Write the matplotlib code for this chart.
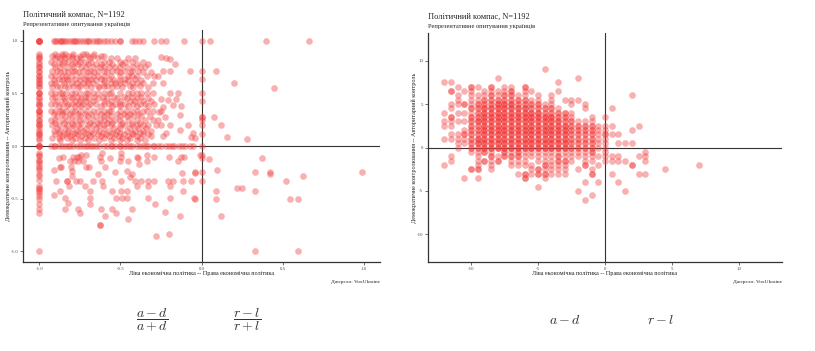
import matplotlib
matplotlib.use("Agg")
import matplotlib.pyplot as plt
import numpy as np

plt.rcParams['font.family'] = ['Liberation Serif', 'DejaVu Serif']
plt.rcParams['mathtext.fontset'] = 'cm'
plt.rcParams['axes.unicode_minus'] = False

title = "Політичний компас, N=1192"
subtitle = "Репрезентативне опитування українців"
xlabel = "Ліва економічна політика -- Права економічна політика"
ylabel = "Демократичне контролювання -- Авторитарний контроль"
caption = "Джерело: VoxUkraine"

# ---- left chart: ratios (r-l)/(r+l) vs (a-d)/(a+d) ----
left_ticks = [-1.0, -0.5, 0.0, 0.5, 1.0]
left_ticklabels = ["-1.0", "-0.5", "0.0", "0.5", "1.0"]

# points at x = -1
edge_left_y = [1.0, 1.0, 1.0, 0.875, 0.857, 0.833, 0.833, 0.8, 0.778, 0.75, 0.75, 0.714,
               0.7, 0.667, 0.667, 0.636, 0.625, 0.6, 0.6, 0.571, 0.556, 0.5, 0.5, 0.5,
               0.467, 0.455, 0.429, 0.4, 0.4, 0.375, 0.333, 0.333, 0.333, 0.3, 0.286,
               0.25, 0.25, 0.222, 0.2, 0.2, 0.167, 0.143, 0.125, 0.111, 0.1, 0.077, 0.059,
               0.0, 0.0, 0.0, -0.066, -0.082, -0.097, -0.129, -0.145, -0.16, -0.19,
               -0.208, -0.223, -0.27, -0.286, -0.318, -0.38, -0.396, -0.41, -0.428,
               -0.443, -0.475, -0.506, -0.553, -0.594, -0.638, -1.0]

# points at y = 1
top_row_x = [-1, -1, -0.91, -0.9, -0.889, -0.875, -0.867, -0.857, -0.846, -0.833, -0.818,
             -0.8, -0.786, -0.778, -0.765, -0.75, -0.733, -0.714, -0.7, -0.692, -0.667,
             -0.65, -0.636, -0.625, -0.6, -0.58, -0.556, -0.53, -0.5, -0.5, -0.43, -0.41,
             -0.385, -0.36, -0.29, -0.25, -0.22, -0.11, 0.055, 0.4, 0.66]

# points at y = 0
zero_row_x = [-1, -0.93, -0.91, -0.9, -0.88, -0.86, -0.84, -0.82, -0.81, -0.79, -0.77,
              -0.75, -0.73, -0.71, -0.7, -0.68, -0.667, -0.65, -0.63, -0.6, -0.58, -0.56,
              -0.55, -0.53, -0.5, -0.5, -0.48, -0.46, -0.44, -0.43, -0.4, -0.38, -0.36,
              -0.34, -0.33, -0.3, -0.29, -0.27, -0.25, -0.22, -0.2, -0.18, -0.17, -0.14,
              -0.12, -0.1, -0.07, -0.05]

# points at x = 0
axis_col_y = [1.0, 0.714, 0.636, 0.5, 0.429, 0.273, 0.273, 0.25, 0.2, 0.111, 0.0,
              -0.083, -0.111, -0.25, -0.333]

# dense cloud, one row of x values per y value
cloud_y = [0.875, 0.857, 0.833, 0.8, 0.778, 0.75, 0.714, 0.7, 0.667, 0.636, 0.625, 0.6,
           0.571, 0.556, 0.5, 0.467, 0.455, 0.429, 0.4, 0.375, 0.333, 0.3, 0.286, 0.25,
           0.222, 0.2, 0.167, 0.143, 0.125, 0.111, 0.091, 0.077, 0.059]
cloud_x = [
    [-0.905, -0.86, -0.84, -0.79, -0.73, -0.71, -0.66],
    [-0.92, -0.89, -0.857, -0.82, -0.8, -0.75, -0.7, -0.67, -0.62, -0.6],
    [-0.9, -0.87, -0.84, -0.8, -0.77, -0.74, -0.69, -0.64, -0.56, -0.52, -0.45, -0.41],
    [-0.93, -0.88, -0.85, -0.82, -0.78, -0.75, -0.72, -0.68, -0.6, -0.57, -0.5, -0.47, -0.43, -0.36],
    [-0.91, -0.86, -0.8, -0.76, -0.7, -0.65, -0.62, -0.55, -0.49, -0.4, -0.33],
    [-0.9, -0.875, -0.83, -0.79, -0.74, -0.71, -0.667, -0.625, -0.6, -0.57, -0.53, -0.5, -0.46, -0.42, -0.38, -0.35],
    [-0.92, -0.89, -0.85, -0.8, -0.78, -0.73, -0.69, -0.64, -0.6, -0.55, -0.52, -0.48, -0.43, -0.39],
    [-0.87, -0.82, -0.76, -0.7, -0.66, -0.58, -0.5, -0.44, -0.36, -0.31],
    [-0.93, -0.9, -0.857, -0.833, -0.8, -0.75, -0.714, -0.667, -0.636, -0.6, -0.556, -0.5, -0.455, -0.429, -0.4, -0.333, -0.29],
    [-0.88, -0.83, -0.78, -0.72, -0.68, -0.62, -0.57, -0.47, -0.41],
    [-0.91, -0.86, -0.82, -0.75, -0.7, -0.65, -0.6, -0.54, -0.5, -0.45, -0.37],
    [-0.93, -0.9, -0.85, -0.8, -0.77, -0.73, -0.7, -0.667, -0.6, -0.56, -0.53, -0.5, -0.47, -0.43, -0.4, -0.36, -0.3],
    [-0.89, -0.84, -0.79, -0.75, -0.71, -0.64, -0.6, -0.58, -0.52, -0.44, -0.38],
    [-0.92, -0.87, -0.82, -0.76, -0.68, -0.63, -0.55, -0.49, -0.42, -0.33],
    [-0.93, -0.9, -0.875, -0.857, -0.833, -0.8, -0.778, -0.75, -0.714, -0.7, -0.667, -0.636, -0.6, -0.571, -0.556, -0.5, -0.455, -0.429, -0.4, -0.375, -0.333, -0.3],
    [-0.9, -0.86, -0.81, -0.77, -0.72, -0.66, -0.61, -0.54, -0.48, -0.43, -0.37],
    [-0.92, -0.85, -0.8, -0.74, -0.7, -0.64, -0.58, -0.52, -0.46, -0.4, -0.33],
    [-0.89, -0.84, -0.78, -0.75, -0.71, -0.667, -0.6, -0.56, -0.5, -0.44, -0.41, -0.36, -0.31],
    [-0.93, -0.9, -0.857, -0.82, -0.8, -0.76, -0.73, -0.69, -0.65, -0.6, -0.57, -0.53, -0.5, -0.47, -0.42, -0.38, -0.35, -0.29],
    [-0.88, -0.83, -0.78, -0.74, -0.7, -0.62, -0.55, -0.5, -0.45, -0.4, -0.33],
    [-0.93, -0.9, -0.875, -0.857, -0.833, -0.8, -0.778, -0.75, -0.714, -0.667, -0.636, -0.6, -0.571, -0.556, -0.5, -0.467, -0.429, -0.4, -0.36, -0.333, -0.3, -0.25],
    [-0.91, -0.86, -0.81, -0.76, -0.72, -0.68, -0.62, -0.58, -0.52, -0.48, -0.44, -0.39],
    [-0.89, -0.84, -0.8, -0.75, -0.7, -0.65, -0.6, -0.56, -0.5, -0.46, -0.42, -0.37, -0.32],
    [-0.93, -0.9, -0.857, -0.82, -0.78, -0.75, -0.71, -0.667, -0.625, -0.6, -0.57, -0.53, -0.5, -0.45, -0.4, -0.35, -0.3, -0.27],
    [-0.9, -0.85, -0.8, -0.74, -0.69, -0.64, -0.58, -0.55, -0.49, -0.43, -0.38],
    [-0.92, -0.88, -0.83, -0.79, -0.76, -0.7, -0.667, -0.63, -0.6, -0.56, -0.5, -0.47, -0.43, -0.4, -0.36, -0.33, -0.28],
    [-0.89, -0.84, -0.8, -0.75, -0.71, -0.65, -0.6, -0.54, -0.5, -0.44, -0.39, -0.34],
    [-0.91, -0.87, -0.82, -0.77, -0.73, -0.68, -0.63, -0.57, -0.52, -0.46, -0.41, -0.36, -0.31],
    [-0.88, -0.83, -0.78, -0.72, -0.67, -0.61, -0.55, -0.5, -0.43, -0.38],
    [-0.9, -0.85, -0.8, -0.76, -0.7, -0.64, -0.59, -0.53, -0.48, -0.42, -0.36, -0.33],
    [-0.86, -0.81, -0.74, -0.69, -0.62, -0.57, -0.51, -0.45, -0.4, -0.31],
    [-0.92, -0.88, -0.83, -0.78, -0.72, -0.66, -0.6, -0.54, -0.49, -0.44, -0.38],
    [-0.87, -0.8, -0.75, -0.7, -0.63, -0.56, -0.5, -0.46, -0.4, -0.35],
]

# scattered single points
other_x = [-0.247, -0.217, -0.196, -0.166, -0.237, -0.196, -0.07, -0.27, -0.237, -0.196,
           -0.145, -0.155, -0.247, -0.206, -0.176, -0.125, -0.237, -0.227, -0.135, -0.196,
           -0.084, -0.053, -0.063, -0.237, -0.217, -0.135, -0.25, -0.26, -0.043,
           0.09, 0.198, 0.448, 0.076, 0.12, 0.155, 0.28,
           -0.912, -0.908, -0.896, -0.881, -0.875, -0.867, -0.871, -0.851, -0.843, -0.843,
           -0.83, -0.83, -0.82, -0.814, -0.81, -0.806, -0.8, -0.8, -0.789, -0.783, -0.769,
           -0.773, -0.759, -0.753, -0.748, -0.744, -0.759, -0.748, -0.728, -0.718, -0.712,
           -0.712, -0.691, -0.687, -0.687, -0.687, -0.667, -0.636, -0.626, -0.622, -0.616,
           -0.605, -0.62, -0.595, -0.616, -0.595, -0.564, -0.554, -0.554, -0.534, -0.528,
           -0.524, -0.503, -0.499, -0.499, -0.493, -0.493, -0.491, -0.462, -0.462, -0.458,
           -0.452, -0.45, -0.442, -0.431, -0.429, -0.411, -0.4, -0.397, -0.39, -0.384,
           -0.37, -0.335, -0.335, -0.329, -0.329, -0.329, -0.294, -0.294, -0.284, -0.278,
           -0.227, -0.207, -0.2, -0.2, -0.196, -0.196, -0.176, -0.145, -0.131, -0.125,
           -0.119, -0.115, -0.115, -0.11, -0.067, -0.049, -0.043, -0.012, -0.626, -0.626,
           0.049, 0.37, -0.043, 0.096, 0.33, 0.423, 0.423, 0.52, 0.628, 0.99, 0.088,
           0.217, 0.247, 0.33, -0.043, 0.088, 0.548, 0.595, 0.123, 0.33, 0.593]
other_y = [0.843, 0.836, 0.827, 0.78, 0.71, 0.71, 0.71, 0.667, 0.6, 0.5,
           0.5, 0.45, 0.45, 0.434, 0.387, 0.377, 0.371, 0.277, 0.292, 0.2,
           0.2, 0.12, 0.088, 0.094, 0.12, 0.15, 0.2, 0.324, 0.075,
           0.71, 0.6, 0.553, 0.273, 0.2, 0.088, 0.066,
           -0.23, -0.465, -0.333, -0.113, -0.2, -0.2, -0.43, -0.1, -0.49, -0.6,
           -0.333, -0.333, -0.538, -0.38, -0.145, -0.2, -0.28, -0.24, -0.1, -0.145, -0.1,
           -0.333, -0.145, -0.1, -0.333, -0.082, -0.6, -0.632, -0.145, -0.38, -0.2,
           -0.082, -0.2, -0.43, -0.49, -0.553, -0.333, -0.27, -0.1, -0.145, -0.333,
           -0.38, -0.6, -0.66, -0.066, -0.2, -0.113, -0.43, -0.6, -0.248, -0.632,
           -0.49, -0.145, -0.066, -0.1, -0.333, -0.43, -0.49, -0.233, -0.49, -0.43,
           -0.689, -0.145, -0.296, -0.27, -0.6, -0.333, -0.1, -0.38, -0.113, -0.167,
           -0.333, -0.082, -0.145, -0.333, -0.38, -0.49, -0.1, -0.333, -0.553, -0.858,
           -0.623, -0.333, -0.1, -0.836, -0.38, -0.49, -0.333, -0.145, -0.66, -0.1,
           -0.255, -0.333, -0.43, -0.1, -0.333, -0.49, -0.255, -0.082, -0.75, -0.75,
           -0.123, -0.11, -0.25, -0.23, -0.25, -0.25, -0.27, -0.333, -0.286, -0.25, -0.428,
           -0.4, -0.4, -0.43, -0.5, -0.5, -0.5, -0.5, -0.663, -1.0, -1.0]

# ---- right chart: differences r-l vs a-d, counts of respondents on a 0.5 grid ----
right_ticks = [-10, -5, 0, 5, 10]
right_ticklabels = ["-10", "-5", "0", "5", "10"]
right_grid_y = [9, 8.5, 8, 7.5, 7, 6.5, 6, 5.5, 5, 4.5, 4, 3.5, 3, 2.5, 2, 1.5, 1, 0.5,
                0, -0.5, -1, -1.5, -2, -2.5, -3, -3.5, -4, -4.5, -5, -5.5, -6]
right_col_x = [-12, -11.5, -11, -10.5, -10, -9.5, -9, -8.5, -8, -7.5, -7, -6.5, -6,
               -5.5, -5, -4.5, -4, -3.5, -3, -2.5, -2, -1.5, -1, -0.5, 0, 0.5, 1, 1.5,
               2, 2.5, 3, 4.5, 7]
# one string per column, one digit (count) per y value of right_grid_y
right_col_counts = [
    "00010 00000 10110 01000 00100 00000 0",
    "00010 20011 02110 11000 11000 00000 0",
    "00001 01110 10100 11110 00000 00000 0",
    "00000 10020 10101 21100 00000 10000 0",
    "00002 11112 12222 22221 00020 00000 0",
    "00001 01122 22322 23321 11120 10000 0",
    "00000 11223 33333 33332 02000 00000 0",
    "00002 12223 33333 33331 21110 00000 0",
    "00100 11233 33333 33330 12000 00000 0",
    "00001 12233 33333 33332 20000 00000 0",
    "00001 22233 33333 33331 21100 00000 0",
    "00000 01223 33333 33332 21101 00000 0",
    "00002 11223 33333 33331 11102 20000 0",
    "00000 10122 33333 33331 10111 00000 0",
    "00000 01122 33333 33331 11022 00100 0",
    "10000 00012 23333 33331 11212 10000 0",
    "00000 01112 23333 33331 11111 00000 0",
    "00010 10001 22333 33331 22111 00000 0",
    "00000 00100 22233 33331 12111 00000 0",
    "00000 00110 11222 22221 11000 00000 0",
    "00100 00100 00122 22221 10010 00010 0",
    "00000 00011 00122 22221 11200 01000 1",
    "00000 00000 01122 22222 11012 00001 0",
    "00000 00000 00011 11110 10100 01000 0",
    "00000 00000 01011 21111 11000 00000 0",
    "00000 00001 00010 10000 11001 00000 0",
    "00000 00000 00000 10100 11000 01000 0",
    "00000 00000 00000 00100 01000 00010 0",
    "00000 01000 00001 00100 00200 00000 0",
    "00000 00000 00010 00000 10001 00000 0",
    "00000 00000 00000 00001 11001 00000 0",
    "00000 00000 00000 00000 00010 00000 0",
    "00000 00000 00000 00000 00100 00000 0",
]

# ---- assemble points ----
lx = [-1.0] * len(edge_left_y) + top_row_x + zero_row_x + [0.0] * len(axis_col_y) + other_x
ly = edge_left_y + [1.0] * len(top_row_x) + [0.0] * len(zero_row_x) + axis_col_y + other_y
for yv, xs in zip(cloud_y, cloud_x):
    lx += xs
    ly += [yv] * len(xs)

rx, ry = [], []
for xv, col in zip(right_col_x, right_col_counts):
    digits = col.replace(" ", "")
    for yv, ch in zip(right_grid_y, digits):
        n = int(ch)
        rx += [xv] * n
        ry += [yv] * n

point_color = '#f23b3b'
dark = '#333333'

fig = plt.figure(figsize=(8.15, 3.51), dpi=100)
W, H = 815, 351
ax1 = fig.add_axes([23 / W, 89 / H, 357 / W, 232 / H])
ax2 = fig.add_axes([428 / W, 89 / H, 354 / W, 229 / H])


def style(ax, lim, ticks, labels):
    ax.set_xlim(-lim, lim)
    ax.set_ylim(-lim, lim)
    for s in ['top', 'right']:
        ax.spines[s].set_visible(False)
    for s in ['left', 'bottom']:
        ax.spines[s].set_color(dark)
        ax.spines[s].set_linewidth(0.9)
    ax.axhline(0, color=dark, lw=0.8, zorder=1)
    ax.axvline(0, color=dark, lw=0.8, zorder=1)
    ax.set_xticks(ticks)
    ax.set_xticklabels(labels)
    ax.set_yticks(ticks)
    ax.set_yticklabels(labels)
    ax.tick_params(length=2, width=0.5, color=dark, labelsize=3.5,
                   labelcolor='#4d4d4d', pad=1.5)


ax1.scatter(lx, ly, s=23, color=point_color, alpha=0.4, linewidths=0, zorder=2)
style(ax1, 1.1, left_ticks, left_ticklabels)

ax2.scatter(rx, ry, s=23, color=point_color, alpha=0.4, linewidths=0, zorder=2)
style(ax2, 13.2, right_ticks, right_ticklabels)


def labels(left, right, top, title_y, sub_y, ylab_x):
    fig.text(left / W, 1 - title_y / H, title, fontsize=6, va='center', color='#222222')
    fig.text(left / W, 1 - sub_y / H, subtitle, fontsize=4.6, va='center', color='#222222')
    fig.text((left + right) / 2 / W, 1 - 274 / H, xlabel, fontsize=4.4, ha='center',
             va='center', color='#222222')
    fig.text(right / W, 1 - 282 / H, caption, fontsize=3.9, ha='right', va='center',
             color='#222222')
    fig.text(ylab_x / W, 1 - (top + 262) / 2 / H, ylabel, fontsize=4.4, rotation=90,
             ha='center', va='center', color='#222222')


labels(23, 380, 30, 15, 24.5, 8)
labels(428, 782, 33, 16.5, 26.5, 414)

fs = 10
fig.text(152 / W, 1 - 320 / H, r'$\dfrac{a-d}{a+d}$', fontsize=fs, ha='center', va='center', color=dark)
fig.text(247 / W, 1 - 320 / H, r'$\dfrac{r-l}{r+l}$', fontsize=fs, ha='center', va='center', color=dark)
fig.text(565 / W, 1 - 321 / H, r'$a-d$', fontsize=fs, ha='center', va='center', color=dark)
fig.text(661 / W, 1 - 321 / H, r'$r-l$', fontsize=fs, ha='center', va='center', color=dark)

fig.savefig('out.png', dpi=100)
